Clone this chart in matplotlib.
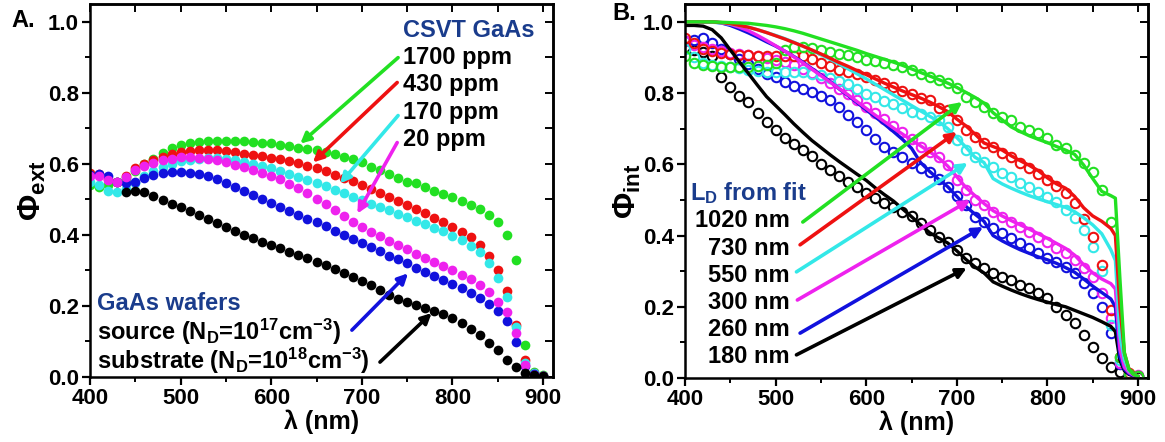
import matplotlib
matplotlib.use('Agg')
import matplotlib.pyplot as plt
import numpy as np

plt.rcParams['font.family'] = ['Liberation Sans', 'DejaVu Sans']
plt.rcParams['font.weight'] = 'bold'
plt.rcParams['mathtext.fontset'] = 'custom'
plt.rcParams['mathtext.rm'] = 'Liberation Sans:bold'
plt.rcParams['mathtext.it'] = 'Liberation Sans:bold'
plt.rcParams['mathtext.bf'] = 'Liberation Sans:bold'

# ---------------- data: panel A (external QE, filled dots) ----------------
lam_a = np.arange(400, 901, 10)
lam_a_black = np.arange(440, 901, 10)

ext_1700 = [0.54, 0.535, 0.54, 0.55, 0.56, 0.58, 0.60, 0.615, 0.63, 0.645,
            0.652, 0.658, 0.662, 0.665, 0.665, 0.665, 0.664, 0.663, 0.662, 0.66,
            0.658, 0.652, 0.649, 0.646, 0.642, 0.638, 0.633, 0.627, 0.62, 0.613,
            0.604, 0.592, 0.583, 0.572, 0.56, 0.549, 0.545, 0.535, 0.525, 0.516,
            0.507, 0.496, 0.484, 0.472, 0.457, 0.435, 0.40, 0.33, 0.09, 0.015, 0.005]
ext_430 = [0.575, 0.572, 0.558, 0.55, 0.567, 0.588, 0.60, 0.612, 0.62, 0.627,
           0.632, 0.635, 0.638, 0.638, 0.638, 0.636, 0.633, 0.629, 0.625, 0.621,
           0.617, 0.613, 0.608, 0.602, 0.595, 0.587, 0.579, 0.569, 0.56, 0.551,
           0.541, 0.53, 0.518, 0.507, 0.496, 0.485, 0.473, 0.461, 0.448, 0.435,
           0.422, 0.408, 0.395, 0.372, 0.34, 0.30, 0.242, 0.146, 0.048, 0.01, 0.003]
ext_170 = [0.55, 0.54, 0.525, 0.52, 0.53, 0.545, 0.565, 0.58, 0.59, 0.60,
           0.607, 0.612, 0.615, 0.616, 0.616, 0.614, 0.61, 0.605, 0.60, 0.593,
           0.587, 0.58, 0.572, 0.563, 0.554, 0.545, 0.537, 0.527, 0.518, 0.508,
           0.498, 0.488, 0.478, 0.469, 0.459, 0.45, 0.44, 0.43, 0.42, 0.41,
           0.398, 0.385, 0.37, 0.352, 0.322, 0.28, 0.225, 0.14, 0.04, 0.01, 0.003]
ext_20 = [0.565, 0.565, 0.555, 0.548, 0.562, 0.583, 0.594, 0.603, 0.61, 0.615,
          0.618, 0.618, 0.617, 0.614, 0.61, 0.604, 0.597, 0.59, 0.583, 0.575,
          0.566, 0.556, 0.544, 0.531, 0.517, 0.502, 0.487, 0.47, 0.452, 0.435,
          0.421, 0.408, 0.396, 0.384, 0.372, 0.36, 0.347, 0.335, 0.323, 0.312,
          0.30, 0.288, 0.275, 0.26, 0.24, 0.212, 0.183, 0.124, 0.034, 0.006, 0.004]
ext_source = [0.57, 0.572, 0.565, 0.55, 0.545, 0.55, 0.56, 0.568, 0.574, 0.577,
              0.578, 0.575, 0.571, 0.565, 0.557, 0.547, 0.536, 0.525, 0.513, 0.502,
              0.49, 0.479, 0.468, 0.457, 0.446, 0.435, 0.424, 0.411, 0.399, 0.388,
              0.376, 0.365, 0.354, 0.342, 0.331, 0.32, 0.308, 0.296, 0.285, 0.274,
              0.262, 0.25, 0.237, 0.222, 0.205, 0.185, 0.158, 0.098, 0.03, 0.008, 0.003]
ext_substrate = [0.52, 0.525, 0.52, 0.51, 0.498, 0.488, 0.478, 0.466, 0.455, 0.444,
                 0.433, 0.421, 0.41, 0.40, 0.39, 0.38, 0.372, 0.363, 0.353, 0.343,
                 0.334, 0.325, 0.314, 0.303, 0.292, 0.281, 0.27, 0.258, 0.246, 0.232,
                 0.22, 0.21, 0.202, 0.194, 0.186, 0.177, 0.166, 0.152, 0.136, 0.117,
                 0.096, 0.075, 0.048, 0.028, 0.012, 0.005, 0.002]

# ---------------- data: panel B (internal QE, circles = data, lines = fit) ----------------
lam_b = np.arange(400, 901, 10)
lam_fit = np.r_[np.arange(400, 871, 10), [875, 880, 885, 890, 895, 900]]

int_1700 = [0.905, 0.885, 0.88, 0.876, 0.874, 0.872, 0.872, 0.873, 0.875, 0.878,
            0.885, 0.92, 0.93, 0.93, 0.927, 0.922, 0.916, 0.911, 0.907, 0.90,
            0.894, 0.89, 0.884, 0.878, 0.872, 0.865, 0.855, 0.846, 0.837, 0.829,
            0.815, 0.79, 0.775, 0.762, 0.745, 0.734, 0.725, 0.705, 0.697, 0.688,
            0.674, 0.655, 0.646, 0.626, 0.605, 0.578, 0.528, 0.438, 0.06, 0.012, 0.005]
int_430 = [0.955, 0.94, 0.925, 0.918, 0.912, 0.91, 0.908, 0.906, 0.905, 0.905,
           0.905, 0.905, 0.905, 0.903, 0.895, 0.885, 0.875, 0.866, 0.86, 0.853,
           0.845, 0.837, 0.828, 0.817, 0.806, 0.797, 0.787, 0.78, 0.758, 0.752,
           0.725, 0.697, 0.677, 0.66, 0.649, 0.633, 0.621, 0.605, 0.59, 0.572,
           0.556, 0.538, 0.52, 0.492, 0.447, 0.396, 0.317, 0.19, 0.06, 0.015, 0.005]
int_170 = [0.925, 0.90, 0.885, 0.878, 0.876, 0.873, 0.87, 0.866, 0.862, 0.86,
           0.86, 0.86, 0.86, 0.858, 0.855, 0.85, 0.843, 0.835, 0.825, 0.812,
           0.798, 0.788, 0.778, 0.768, 0.758, 0.748, 0.74, 0.733, 0.725, 0.705,
           0.668, 0.64, 0.621, 0.607, 0.593, 0.576, 0.565, 0.548, 0.537, 0.522,
           0.508, 0.494, 0.472, 0.449, 0.416, 0.368, 0.30, 0.15, 0.05, 0.012, 0.005]
int_20 = [0.945, 0.935, 0.93, 0.925, 0.918, 0.913, 0.91, 0.907, 0.903, 0.899,
          0.893, 0.886, 0.878, 0.868, 0.857, 0.843, 0.828, 0.812, 0.797, 0.78,
          0.762, 0.744, 0.727, 0.709, 0.69, 0.67, 0.648, 0.635, 0.621, 0.598,
          0.556, 0.528, 0.50, 0.486, 0.466, 0.452, 0.438, 0.424, 0.41, 0.396,
          0.382, 0.365, 0.351, 0.331, 0.309, 0.284, 0.239, 0.169, 0.042, 0.012, 0.008]
int_source = [0.945, 0.95, 0.955, 0.94, 0.925, 0.91, 0.895, 0.882, 0.868, 0.855,
              0.845, 0.832, 0.82, 0.812, 0.804, 0.793, 0.78, 0.76, 0.738, 0.718,
              0.697, 0.672, 0.65, 0.635, 0.62, 0.605, 0.59, 0.578, 0.56, 0.537,
              0.51, 0.486, 0.452, 0.438, 0.421, 0.407, 0.393, 0.379, 0.365, 0.351,
              0.337, 0.326, 0.312, 0.295, 0.267, 0.239, 0.20, 0.127, 0.04, 0.01, 0.005]
int_substrate = [0.93, 0.92, 0.915, 0.905, 0.845, 0.818, 0.792, 0.775, 0.745, 0.72,
                 0.697, 0.675, 0.658, 0.64, 0.622, 0.602, 0.584, 0.568, 0.551, 0.535,
                 0.52, 0.505, 0.492, 0.479, 0.466, 0.454, 0.434, 0.416, 0.396, 0.382,
                 0.36, 0.337, 0.323, 0.309, 0.295, 0.284, 0.275, 0.261, 0.253, 0.239,
                 0.225, 0.20, 0.177, 0.154, 0.121, 0.087, 0.056, 0.031, 0.017, 0.008, 0.004]

fit_1020 = [1.0, 1.0, 1.0, 1.0, 0.999, 0.998, 0.997, 0.996, 0.993, 0.99,
            0.986, 0.981, 0.975, 0.968, 0.96, 0.952, 0.944, 0.936, 0.928, 0.92,
            0.911, 0.903, 0.895, 0.887, 0.878, 0.868, 0.858, 0.848, 0.838, 0.828,
            0.816, 0.802, 0.788, 0.772, 0.745, 0.725, 0.705, 0.692, 0.68, 0.67,
            0.661, 0.65, 0.64, 0.628, 0.598, 0.56, 0.524, 0.512,
            0.505, 0.28, 0.07, 0.025, 0.01, 0.005]
fit_730 = [1.0, 1.0, 1.0, 1.0, 0.998, 0.995, 0.99, 0.985, 0.978, 0.97,
           0.961, 0.952, 0.942, 0.932, 0.921, 0.91, 0.898, 0.886, 0.875, 0.863,
           0.852, 0.84, 0.828, 0.817, 0.806, 0.796, 0.786, 0.775, 0.762, 0.748,
           0.727, 0.708, 0.685, 0.66, 0.65, 0.64, 0.624, 0.61, 0.597, 0.582,
           0.562, 0.545, 0.533, 0.51, 0.478, 0.455, 0.44, 0.42,
           0.40, 0.20, 0.07, 0.025, 0.01, 0.005]
fit_550 = [1.0, 1.0, 1.0, 0.999, 0.997, 0.994, 0.99, 0.985, 0.978, 0.97,
           0.962, 0.953, 0.943, 0.932, 0.92, 0.908, 0.895, 0.882, 0.868, 0.854,
           0.84, 0.825, 0.81, 0.795, 0.78, 0.765, 0.75, 0.735, 0.72, 0.70,
           0.675, 0.648, 0.62, 0.605, 0.56, 0.545, 0.533, 0.522, 0.512, 0.503,
           0.495, 0.487, 0.479, 0.467, 0.45, 0.43, 0.405, 0.36,
           0.33, 0.12, 0.05, 0.02, 0.01, 0.005]
fit_300 = [1.0, 1.0, 1.0, 1.0, 0.998, 0.993, 0.985, 0.975, 0.962, 0.948,
           0.933, 0.918, 0.902, 0.885, 0.867, 0.849, 0.831, 0.813, 0.795, 0.776,
           0.757, 0.738, 0.72, 0.702, 0.685, 0.668, 0.652, 0.635, 0.618, 0.595,
           0.565, 0.535, 0.512, 0.49, 0.47, 0.455, 0.442, 0.43, 0.418, 0.405,
           0.392, 0.378, 0.364, 0.345, 0.318, 0.295, 0.278, 0.265,
           0.25, 0.08, 0.03, 0.015, 0.008, 0.005]
fit_260 = [1.0, 1.0, 1.0, 1.0, 0.997, 0.99, 0.98, 0.969, 0.957, 0.944,
           0.932, 0.918, 0.903, 0.887, 0.869, 0.851, 0.833, 0.812, 0.793, 0.773,
           0.753, 0.733, 0.713, 0.692, 0.67, 0.645, 0.605, 0.58, 0.558, 0.537,
           0.51, 0.482, 0.46, 0.44, 0.40, 0.385, 0.372, 0.36, 0.35, 0.34,
           0.332, 0.322, 0.31, 0.297, 0.278, 0.258, 0.24, 0.222,
           0.20, 0.06, 0.025, 0.012, 0.006, 0.004]
fit_180 = [0.99, 0.99, 0.988, 0.978, 0.955, 0.921, 0.888, 0.855, 0.822, 0.79,
           0.765, 0.74, 0.714, 0.69, 0.667, 0.647, 0.627, 0.608, 0.59, 0.572,
           0.555, 0.534, 0.515, 0.497, 0.475, 0.453, 0.43, 0.408, 0.393, 0.379,
           0.357, 0.333, 0.312, 0.295, 0.27, 0.258, 0.247, 0.237, 0.228, 0.22,
           0.213, 0.206, 0.20, 0.19, 0.18, 0.17, 0.158, 0.145,
           0.13, 0.05, 0.02, 0.01, 0.006, 0.004]

# colours
GREEN = '#22e022'
RED = '#ee1111'
CYAN = '#33e8e8'
MAGENTA = '#ee22ee'
BLUE = '#1111dd'
BLACK = '#000000'
TXTBLUE = '#1a3c8c'

fig = plt.figure(figsize=(11.65, 4.42), dpi=100)
axA = fig.add_axes([0.0773, 0.147, 0.3974, 0.844])
axB = fig.add_axes([0.588, 0.1448, 0.3974, 0.846])


def style_axes(ax, ylabel):
    ax.set_xlim(400, 911)
    ax.set_ylim(0, 1.05)
    ax.set_xticks(np.arange(400, 901, 100))
    ax.set_xticks(np.arange(450, 901, 100), minor=True)
    ax.set_yticks(np.arange(0, 1.01, 0.2))
    ax.set_yticks(np.arange(0.1, 1.01, 0.2), minor=True)
    ax.tick_params(which='major', direction='out', length=6, width=1.6,
                   labelsize=16, pad=2)
    ax.tick_params(which='minor', direction='out', length=3.5, width=1.4)
    for lab in ax.get_xticklabels() + ax.get_yticklabels():
        lab.set_fontweight('bold')
    for s in ax.spines.values():
        s.set_linewidth(1.8)
    # mirrored inward ticks on top / right
    top = ax.secondary_xaxis('top')
    top.set_xticks(np.arange(400, 901, 50))
    top.tick_params(direction='in', length=6, width=1.4, labeltop=False)
    top.spines['top'].set_linewidth(1.8)
    right = ax.secondary_yaxis('right')
    right.set_yticks(np.arange(0, 1.01, 0.1))
    right.tick_params(direction='in', length=6, width=1.4, labelright=False)
    right.spines['right'].set_linewidth(1.8)
    ax.set_xlabel('λ (nm)', fontsize=18, fontweight='bold', labelpad=0)
    ax.set_ylabel(ylabel, fontsize=23, fontweight='bold', labelpad=0)


# ---------------- panel A ----------------
dot = dict(marker='o', linestyle='none', markersize=7, markeredgewidth=0)
axA.plot(lam_a, ext_1700, color=GREEN, **dot)
axA.plot(lam_a, ext_430, color=RED, **dot)
axA.plot(lam_a, ext_170, color=CYAN, **dot)
axA.plot(lam_a, ext_source, color=BLUE, **dot)
axA.plot(lam_a, ext_20, color=MAGENTA, **dot)
axA.plot(lam_a_black, ext_substrate, color=BLACK, **dot)
style_axes(axA, r'$\Phi_{ext}$')

tA = dict(fontsize=17, fontweight='bold', va='center', ha='left')
axA.text(745, 0.975, 'CSVT GaAs', color=TXTBLUE, **tA)
axA.text(745, 0.899, '1700 ppm', **tA)
axA.text(745, 0.823, '430 ppm', **tA)
axA.text(745, 0.745, '170 ppm', **tA)
axA.text(745, 0.668, '20 ppm', **tA)
axA.text(408, 0.207, 'GaAs wafers', color=TXTBLUE, **tA)
axA.text(408, 0.128, r'source (N$_D$=10$^{17}$cm$^{-3}$)', **tA)
axA.text(408, 0.044, r'substrate (N$_D$=10$^{18}$cm$^{-3}$)', **tA)

arr = dict(arrowstyle='-|>', lw=2.6, mutation_scale=15, shrinkA=0, shrinkB=0)
for c, start, tip in [(GREEN, (740, 0.899), (632, 0.657)),
                      (RED, (739, 0.829), (646, 0.604)),
                      (CYAN, (740, 0.736), (676, 0.545)),
                      (MAGENTA, (739, 0.66), (695, 0.46)),
                      (BLUE, (689, 0.132), (751, 0.292)),
                      (BLACK, (720, 0.042), (777, 0.18))]:
    axA.annotate('', xy=tip, xytext=start, arrowprops=dict(color=c, **arr))

# ---------------- panel B ----------------
circ = dict(marker='o', linestyle='none', markersize=6.8, markerfacecolor='none',
            markeredgewidth=1.5)
line = dict(linewidth=2.4)
axB.plot(lam_b, int_substrate, color=BLACK, **circ)
axB.plot(lam_b, int_source, color=BLUE, **circ)
axB.plot(lam_b, int_20, color=MAGENTA, **circ)
axB.plot(lam_b, int_170, color=CYAN, **circ)
axB.plot(lam_b, int_430, color=RED, **circ)
axB.plot(lam_b, int_1700, color=GREEN, **circ)
axB.plot(lam_fit, fit_180, color=BLACK, **line)
axB.plot(lam_fit, fit_260, color=BLUE, **line)
axB.plot(lam_fit, fit_300, color=MAGENTA, **line)
axB.plot(lam_fit, fit_550, color=CYAN, **line)
axB.plot(lam_fit, fit_730, color=RED, **line)
axB.plot(lam_fit, fit_1020, color=GREEN, **line)
style_axes(axB, r'$\Phi_{int}$')

axB.text(405, 0.52, r'L$_D$ from fit', color=TXTBLUE, fontsize=17,
         fontweight='bold', va='center', ha='left')
tB = dict(fontsize=17, fontweight='bold', va='center', ha='right')
ld_labels = ['1020 nm', '730 nm', '550 nm', '300 nm', '260 nm', '180 nm']
ld_y = [0.442, 0.365, 0.289, 0.213, 0.135, 0.059]
for lab, y in zip(ld_labels, ld_y):
    axB.text(516, y, lab, **tB)

for c, start, tip in [(GREEN, (530, 0.438), (706, 0.775)),
                      (RED, (527, 0.374), (700, 0.691)),
                      (CYAN, (523, 0.298), (712, 0.604)),
                      (MAGENTA, (524, 0.219), (715, 0.50)),
                      (BLUE, (527, 0.126), (729, 0.424)),
                      (BLACK, (523, 0.065), (711, 0.309))]:
    axB.annotate('', xy=tip, xytext=start, arrowprops=dict(color=c, **arr))

fig.text(0.010, 0.939, 'A.', fontsize=17, fontweight='bold', va='baseline')
fig.text(0.526, 0.955, 'B.', fontsize=17, fontweight='bold', va='baseline')

plt.savefig('out.png', dpi=100)
